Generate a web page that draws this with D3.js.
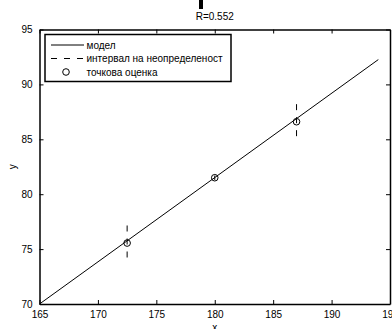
<!DOCTYPE html>
<html>
<head>
<meta charset="utf-8">
<script src="https://cdn.jsdelivr.net/npm/d3@7"></script>
<style>
body { margin: 0; background: #fff; }
svg { font-family: "Liberation Sans", Arial, sans-serif; }
</style>
</head>
<body>
<div id="viz"></div>
<script>
// model line end points
var modelX = [165, 194];
var modelY = [70, 92.26];
// point estimates
var pointX = [172.5, 180, 187];
var pointY = [75.55, 81.5, 86.6];
// uncertainty interval
var lowY = [73.8, 81.3, 85.05];
var highY = [77.15, 81.7, 88.2];

var xTicks = [165, 170, 175, 180, 185, 190, 195];
var yTicks = [70, 75, 80, 85, 90, 95];
var legendLabels = ["модел", "интервал на неопределеност", "точкова оценка"];
var titleText = "R=0.552";

var width = 392,
    height = 329,
    margin = {top: 29.5, right: 2, bottom: 25, left: 39.5};

var svg = d3.select("#viz").append("svg")
  .attr("width", width)
  .attr("height", height);

var x = d3.scaleLinear().domain([165, 195]).range([margin.left, 390]);
var y = d3.scaleLinear().domain([70, 95]).range([304, margin.top]);

// cut-off mark at the top
svg.append("rect").attr("x", 199).attr("y", 0).attr("width", 4).attr("height", 9).attr("fill", "#000");

svg.append("text")
  .attr("x", x(180)).attr("y", 20)
  .attr("text-anchor", "middle")
  .attr("font-size", 10)
  .text(titleText);

var g = svg.append("g");

// model line
g.append("line")
  .attr("x1", x(modelX[0])).attr("y1", y(modelY[0]))
  .attr("x2", x(modelX[1])).attr("y2", y(modelY[1]))
  .attr("stroke", "#000").attr("stroke-width", 1);

// intervals
g.selectAll(".ci").data(pointX).enter().append("line")
  .attr("class", "ci")
  .attr("x1", d => x(d)).attr("x2", d => x(d))
  .attr("y1", (d, i) => y(highY[i])).attr("y2", (d, i) => y(lowY[i]))
  .attr("stroke", "#000").attr("stroke-width", 1)
  .attr("stroke-dasharray", "6,7");

// point estimates
g.selectAll(".pt").data(pointX).enter().append("circle")
  .attr("class", "pt")
  .attr("cx", d => x(d)).attr("cy", (d, i) => y(pointY[i]))
  .attr("r", 3.3)
  .attr("fill", "none").attr("stroke", "#000").attr("stroke-width", 1);

// axes box
var xAxisB = d3.axisBottom(x).tickValues(xTicks).tickSize(-4).tickPadding(7).tickSizeOuter(0);
var xAxisT = d3.axisTop(x).tickValues(xTicks).tickSize(-4).tickFormat("").tickSizeOuter(0);
var yAxisL = d3.axisLeft(y).tickValues(yTicks).tickSize(-4).tickPadding(7).tickSizeOuter(0);
var yAxisR = d3.axisRight(y).tickValues(yTicks).tickSize(-4).tickFormat("").tickSizeOuter(0);

svg.append("g").attr("class", "axis").attr("transform", "translate(0,304)").call(xAxisB);
svg.append("g").attr("class", "axis").attr("transform", `translate(0,${margin.top})`).call(xAxisT);
svg.append("g").attr("class", "axis").attr("transform", `translate(${margin.left},0)`).call(yAxisL);
svg.append("g").attr("class", "axis").attr("transform", "translate(390,0)").call(yAxisR);

svg.selectAll(".axis text").attr("font-size", 10).attr("font-family", "Liberation Sans, Arial, sans-serif").attr("fill", "#000");
svg.selectAll(".axis path").attr("stroke", "#000").attr("stroke-width", 1.5);
svg.selectAll(".axis line").attr("stroke", "#000");

svg.append("text")
  .attr("x", x(180)).attr("y", 331)
  .attr("text-anchor", "middle").attr("font-size", 10)
  .text("x");
svg.append("text")
  .attr("transform", `translate(16,${y(82.5)}) rotate(-90)`)
  .attr("text-anchor", "middle").attr("font-size", 10)
  .text("y");

// legend
var leg = svg.append("g").attr("transform", "translate(45,34.5)");
leg.append("rect").attr("width", 186).attr("height", 47)
  .attr("fill", "#fff").attr("stroke", "#000").attr("stroke-width", 1.5);
var rows = leg.selectAll(".row").data(legendLabels).enter().append("g")
  .attr("class", "row")
  .attr("transform", (d, i) => `translate(0,${10.5 + i * 13.5})`);
rows.append("text").attr("x", 41.5).attr("y", 3.5).attr("font-size", 10).text(d => d);
rows.filter((d, i) => i === 0).append("line")
  .attr("x1", 6).attr("x2", 39).attr("stroke", "#000");
rows.filter((d, i) => i === 1).append("line")
  .attr("x1", 6).attr("x2", 39).attr("stroke", "#000").attr("stroke-dasharray", "6,7");
rows.filter((d, i) => i === 2).append("circle")
  .attr("cx", 21).attr("r", 3.3).attr("fill", "none").attr("stroke", "#000");
</script>
</body>
</html>
